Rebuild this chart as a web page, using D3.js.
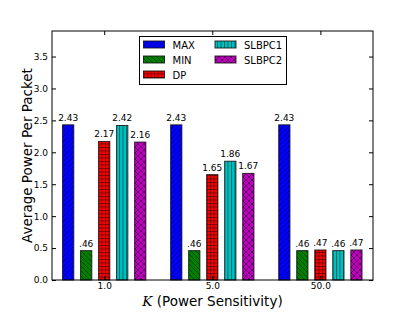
<!DOCTYPE html>
<html>
<head>
<meta charset="utf-8">
<script src="https://d3js.org/d3.v7.min.js"></script>
<style>
  body { margin: 0; background: #fff; }
  text { font-family: "DejaVu Sans", sans-serif; }
</style>
</head>
<body>
<svg id="chart" width="415" height="312"></svg>
<script>
// data
var groups = ["1.0", "5.0", "50.0"];
var seriesNames = ["MAX", "MIN", "DP", "SLBPC1", "SLBPC2"];
var maxVals = [2.43, 2.43, 2.43];
var minVals = [0.46, 0.46, 0.46];
var dpVals = [2.17, 1.65, 0.47];
var slbpc1Vals = [2.42, 1.86, 0.46];
var slbpc2Vals = [2.16, 1.67, 0.47];
var yTicks = [0, 0.5, 1.0, 1.5, 2.0, 2.5, 3.0, 3.5];

var seriesVals = [maxVals, minVals, dpVals, slbpc1Vals, slbpc2Vals];
var colors = ["#0000ff", "#007f00", "#ff0000", "#00bfbf", "#bf00bf"];
var hatches = ["diag", "backdiag", "grid", "vert", "cross"];

var svg = d3.select("#chart");
var L = 52, R = 373, T = 31, B = 280;

var x = d3.scaleLinear().domain([-0.483, 2.487]).range([L, R]);
var y = d3.scaleLinear().domain([0, 3.9]).range([B, T]);
var step = 0.1667, bw = 0.104;

// hatch patterns
var defs = svg.append("defs");
hatches.forEach(function(h, i) {
  var s = (h === "diag" || h === "backdiag") ? 5 : (h === "cross" ? 6 : 3.5);
  var p = defs.append("pattern").attr("id", "h" + i)
    .attr("patternUnits", "userSpaceOnUse").attr("width", s).attr("height", s);
  p.append("rect").attr("width", s).attr("height", s).attr("fill", colors[i]);
  var g = p.append("g").attr("stroke", "#000").attr("stroke-opacity", 0.55).attr("stroke-width", 0.8);
  if (h === "diag") {
    g.append("path").attr("d", "M0," + s + "L" + s + ",0M-1,1L1,-1M" + (s - 1) + "," + (s + 1) + "L" + (s + 1) + "," + (s - 1));
  } else if (h === "backdiag") {
    g.append("path").attr("d", "M0,0L" + s + "," + s + "M-1," + (s - 1) + "L1," + (s + 1) + "M" + (s - 1) + ",-1L" + (s + 1) + ",1");
  } else if (h === "grid") {
    g.append("path").attr("d", "M0,0.5H" + s + "M0.5,0V" + s);
  } else if (h === "vert") {
    g.append("path").attr("d", "M0.5,0V" + s);
  } else {
    g.append("path").attr("d", "M0,0L" + s + "," + s + "M0," + s + "L" + s + ",0");
  }
});

// bars
seriesVals.forEach(function(vals, k) {
  svg.append("g").selectAll("rect").data(vals).enter().append("rect")
    .attr("x", function(d, i) { return x(i + (k - 2) * step - bw / 2); })
    .attr("width", x(bw) - x(0))
    .attr("y", function(d) { return y(d); })
    .attr("height", function(d) { return y(0) - y(d); })
    .attr("fill", "url(#h" + k + ")")
    .attr("stroke", "#111").attr("stroke-opacity", 0.85).attr("stroke-width", 1);

  svg.append("g").selectAll("text").data(vals).enter().append("text")
    .attr("x", function(d, i) { return x(i + (k - 2) * step); })
    .attr("y", function(d) { return y(d) - 4; })
    .attr("text-anchor", "middle").attr("font-size", 9)
    .text(function(d) { var s = d.toFixed(2); return d < 1 ? s.slice(1) : s; });
});

// frame
svg.append("rect").attr("x", L).attr("y", T).attr("width", R - L).attr("height", B - T)
  .attr("fill", "none").attr("stroke", "#000").attr("stroke-width", 1);

// y axis ticks
var yAxis = d3.axisLeft(y).tickValues(yTicks).tickFormat(d3.format(".1f")).tickSizeInner(-4).tickSizeOuter(0).tickPadding(4);
var ya = svg.append("g").attr("transform", "translate(" + L + ",0)").call(yAxis);
ya.select(".domain").remove();
ya.selectAll("text").attr("font-size", 9).attr("font-family", "DejaVu Sans");
var yr = svg.append("g").attr("transform", "translate(" + R + ",0)")
  .call(d3.axisRight(y).tickValues(yTicks).tickSizeInner(-4).tickSizeOuter(0).tickFormat(""));
yr.select(".domain").remove();

// x axis ticks
var xAxis = d3.axisBottom(x).tickValues([0, 1, 2]).tickFormat(function(d) { return groups[d]; })
  .tickSizeInner(-4).tickSizeOuter(0).tickPadding(3);
var xa = svg.append("g").attr("transform", "translate(0," + B + ")").call(xAxis);
xa.select(".domain").remove();
xa.selectAll("text").attr("font-size", 9).attr("font-family", "DejaVu Sans");
var xt = svg.append("g").attr("transform", "translate(0," + T + ")")
  .call(d3.axisTop(x).tickValues([0, 1, 2]).tickSizeInner(-4).tickSizeOuter(0).tickFormat(""));
xt.select(".domain").remove();

// axis labels
svg.append("text").attr("transform", "translate(32," + ((T + B) / 2) + ") rotate(-90)")
  .attr("text-anchor", "middle").attr("font-size", 13.5).text("Average Power Per Packet");
var xl = svg.append("text").attr("x", (L + R) / 2).attr("y", 306).attr("text-anchor", "middle").attr("font-size", 13.5);
xl.append("tspan").attr("font-family", "DejaVu Serif").attr("font-style", "italic").text("K");
xl.append("tspan").text(" (Power Sensitivity)");

// legend
var lg = svg.append("g");
lg.append("rect").attr("x", 139.5).attr("y", 36.5).attr("width", 147).attr("height", 48)
  .attr("fill", "#fff").attr("stroke", "#000").attr("stroke-width", 1);
seriesNames.forEach(function(n, k) {
  var col = k < 3 ? 0 : 1, row = k < 3 ? k : k - 3;
  var px = col === 0 ? 143.5 : 215, py = 41 + row * 15;
  lg.append("rect").attr("x", px).attr("y", py).attr("width", 21).attr("height", 7)
    .attr("fill", "url(#h" + k + ")").attr("stroke", "#111").attr("stroke-opacity", 0.85);
  lg.append("text").attr("x", px + 29).attr("y", py + 7.5).attr("font-size", 10).text(n);
});
</script>
</body>
</html>
